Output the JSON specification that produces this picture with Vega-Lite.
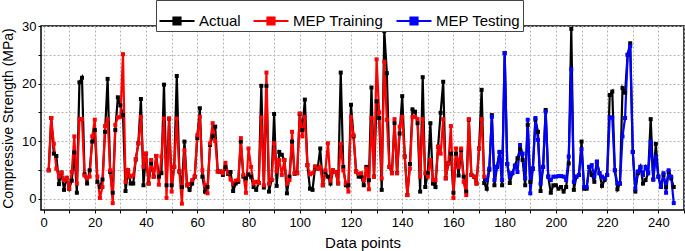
{
  "$schema": "https://vega.github.io/schema/vega-lite/v6.json",
  "width": 643,
  "height": 184,
  "autosize": {"type": "none"},
  "padding": {"left": 41, "top": 26, "right": 1, "bottom": 41},
  "background": "white",
  "config": {
    "font": "Liberation Sans",
    "view": {"stroke": "black", "strokeWidth": 1.5},
    "axis": {"labelFont": "Liberation Sans", "titleFont": "Liberation Sans", "labelColor": "black", "titleColor": "black", "titleFontWeight": "normal", "domain": false, "tickColor": "black", "tickSize": 3, "grid": true, "gridColor": "#b4b4b4", "gridDash": [2, 2], "gridWidth": 1}
  },
  "data": {"values": [
    {"i":2,"Actual":4.9,"MEP Training":4.9},
    {"i":3,"Actual":14,"MEP Training":14},
    {"i":4,"Actual":7.8,"MEP Training":9.5},
    {"i":5,"Actual":7.4,"MEP Training":5.2},
    {"i":6,"Actual":2.5,"MEP Training":3.8},
    {"i":7,"Actual":4.5,"MEP Training":4.5},
    {"i":8,"Actual":1.5,"MEP Training":3.2},
    {"i":9,"Actual":3.6,"MEP Training":3.6},
    {"i":10,"Actual":1.7,"MEP Training":1.7},
    {"i":11,"Actual":3.1,"MEP Training":4.6},
    {"i":12,"Actual":8,"MEP Training":10.8},
    {"i":13,"Actual":1,"MEP Training":2.6},
    {"i":14,"Actual":20.2,"MEP Training":13.8},
    {"i":15,"Actual":21,"MEP Training":13.8},
    {"i":16,"Actual":4.2,"MEP Training":4},
    {"i":17,"Actual":2.6,"MEP Training":3.5},
    {"i":18,"Actual":4.9,"MEP Training":3.8},
    {"i":19,"Actual":9.9,"MEP Training":10.8},
    {"i":20,"Actual":11.9,"MEP Training":13.7},
    {"i":21,"Actual":2.9,"MEP Training":3.8},
    {"i":22,"Actual":2,"MEP Training":0.1},
    {"i":23,"Actual":3.3,"MEP Training":2},
    {"i":24,"Actual":11.6,"MEP Training":12.6},
    {"i":25,"Actual":20.8,"MEP Training":13.8},
    {"i":26,"Actual":4.6,"MEP Training":4.9},
    {"i":27,"Actual":1,"MEP Training":-0.8},
    {"i":28,"Actual":11.9,"MEP Training":12.8},
    {"i":29,"Actual":17.6,"MEP Training":14.1},
    {"i":30,"Actual":16.2,"MEP Training":14.2},
    {"i":31,"Actual":14.5,"MEP Training":25.1},
    {"i":32,"Actual":1.3,"MEP Training":2.9},
    {"i":33,"Actual":4.9,"MEP Training":4.9},
    {"i":34,"Actual":2.6,"MEP Training":3.8},
    {"i":35,"Actual":2.6,"MEP Training":4},
    {"i":36,"Actual":6.8,"MEP Training":6.8},
    {"i":37,"Actual":9.6,"MEP Training":9.6},
    {"i":38,"Actual":17.3,"MEP Training":14.2},
    {"i":39,"Actual":2.3,"MEP Training":5.5},
    {"i":40,"Actual":7.8,"MEP Training":7.8},
    {"i":41,"Actual":2.6,"MEP Training":2.6},
    {"i":42,"Actual":6.1,"MEP Training":6.7},
    {"i":43,"Actual":3.8,"MEP Training":3.8},
    {"i":44,"Actual":7.4,"MEP Training":7.4},
    {"i":45,"Actual":3.8,"MEP Training":2.4},
    {"i":46,"Actual":4.4,"MEP Training":7.3},
    {"i":47,"Actual":19.8,"MEP Training":13.9},
    {"i":48,"Actual":2.3,"MEP Training":0.1},
    {"i":49,"Actual":13.9,"MEP Training":13.9},
    {"i":50,"Actual":2.3,"MEP Training":1.2},
    {"i":51,"Actual":5.5,"MEP Training":5.5},
    {"i":52,"Actual":21.3,"MEP Training":13.9},
    {"i":53,"Actual":4.7,"MEP Training":4.7},
    {"i":54,"Actual":2,"MEP Training":-0.9},
    {"i":55,"Actual":9.9,"MEP Training":8.4},
    {"i":56,"Actual":2.3,"MEP Training":2.3},
    {"i":57,"Actual":1.5,"MEP Training":2.5},
    {"i":58,"Actual":2.6,"MEP Training":3.2},
    {"i":59,"Actual":3.8,"MEP Training":3.8},
    {"i":60,"Actual":10.5,"MEP Training":11},
    {"i":61,"Actual":15.7,"MEP Training":14.2},
    {"i":62,"Actual":3.8,"MEP Training":4.9},
    {"i":63,"Actual":1.2,"MEP Training":2.3},
    {"i":64,"Actual":2,"MEP Training":0.9},
    {"i":65,"Actual":9.3,"MEP Training":9.6},
    {"i":66,"Actual":10.8,"MEP Training":13.1},
    {"i":67,"Actual":12.5,"MEP Training":10},
    {"i":68,"Actual":4.7,"MEP Training":4.7},
    {"i":69,"Actual":4.7,"MEP Training":4.7},
    {"i":70,"Actual":4.1,"MEP Training":4.4},
    {"i":71,"Actual":5.5,"MEP Training":6.2},
    {"i":72,"Actual":4.3,"MEP Training":4.5},
    {"i":73,"Actual":4.6,"MEP Training":3.3},
    {"i":74,"Actual":1.3,"MEP Training":2.6},
    {"i":75,"Actual":2.6,"MEP Training":3.1},
    {"i":76,"Actual":2.9,"MEP Training":3.2},
    {"i":77,"Actual":9.9,"MEP Training":10.5},
    {"i":78,"Actual":3.8,"MEP Training":4.1},
    {"i":79,"Actual":3.5,"MEP Training":1},
    {"i":80,"Actual":4.2,"MEP Training":8.7},
    {"i":81,"Actual":3.8,"MEP Training":5.5},
    {"i":82,"Actual":2,"MEP Training":2.6},
    {"i":83,"Actual":1.5,"MEP Training":2.9},
    {"i":84,"Actual":2.7,"MEP Training":2.7},
    {"i":85,"Actual":19.6,"MEP Training":14.1},
    {"i":86,"Actual":1.9,"MEP Training":2.3},
    {"i":87,"Actual":19.6,"MEP Training":21.9},
    {"i":88,"Actual":1.2,"MEP Training":2.6},
    {"i":89,"Actual":3.2,"MEP Training":3.3},
    {"i":90,"Actual":14.7,"MEP Training":9.6},
    {"i":91,"Actual":2.2,"MEP Training":4.7},
    {"i":92,"Actual":8.1,"MEP Training":6.7},
    {"i":93,"Actual":7.6,"MEP Training":4.1},
    {"i":94,"Actual":6.7,"MEP Training":6.7},
    {"i":95,"Actual":0.9,"MEP Training":2.6},
    {"i":96,"Actual":3.8,"MEP Training":3.2},
    {"i":97,"Actual":9.9,"MEP Training":11.6},
    {"i":98,"Actual":4.3,"MEP Training":4.4},
    {"i":99,"Actual":4.4,"MEP Training":4.4},
    {"i":100,"Actual":14.7,"MEP Training":14.8},
    {"i":101,"Actual":11.9,"MEP Training":10.8},
    {"i":102,"Actual":17.2,"MEP Training":14.2},
    {"i":103,"Actual":5.8,"MEP Training":5.8},
    {"i":104,"Actual":1.7,"MEP Training":4.2},
    {"i":105,"Actual":1.5,"MEP Training":4.4},
    {"i":106,"Actual":5.5,"MEP Training":5.6},
    {"i":107,"Actual":5.2,"MEP Training":5.2},
    {"i":108,"Actual":8.7,"MEP Training":5.5},
    {"i":109,"Actual":2.3,"MEP Training":2.3},
    {"i":110,"Actual":4.6,"MEP Training":4.9},
    {"i":111,"Actual":3.8,"MEP Training":9.6},
    {"i":112,"Actual":2.6,"MEP Training":3.1},
    {"i":113,"Actual":4.9,"MEP Training":4.9},
    {"i":114,"Actual":4.6,"MEP Training":4.6},
    {"i":115,"Actual":2.6,"MEP Training":2.7},
    {"i":116,"Actual":21.9,"MEP Training":9.5},
    {"i":117,"Actual":5.5,"MEP Training":4.9},
    {"i":118,"Actual":2.3,"MEP Training":2.6},
    {"i":119,"Actual":2.3,"MEP Training":1.2},
    {"i":120,"Actual":16.3,"MEP Training":14.2},
    {"i":121,"Actual":10.8,"MEP Training":11},
    {"i":122,"Actual":4.7,"MEP Training":4.7},
    {"i":123,"Actual":3.8,"MEP Training":4.3},
    {"i":124,"Actual":3.8,"MEP Training":4.4},
    {"i":125,"Actual":2.3,"MEP Training":3.2},
    {"i":126,"Actual":5.5,"MEP Training":5.2},
    {"i":127,"Actual":3.2,"MEP Training":1.6},
    {"i":128,"Actual":19.3,"MEP Training":14},
    {"i":129,"Actual":3.8,"MEP Training":3.8},
    {"i":130,"Actual":16.9,"MEP Training":24.2},
    {"i":131,"Actual":14,"MEP Training":15},
    {"i":132,"Actual":1.5,"MEP Training":3.5},
    {"i":133,"Actual":29.1,"MEP Training":23.8},
    {"i":134,"Actual":21.8,"MEP Training":13.7},
    {"i":135,"Actual":5.5,"MEP Training":5.5},
    {"i":136,"Actual":4.4,"MEP Training":4.4},
    {"i":137,"Actual":13.1,"MEP Training":13.8},
    {"i":138,"Actual":4.4,"MEP Training":4.4},
    {"i":139,"Actual":11.3,"MEP Training":12.5},
    {"i":140,"Actual":17.8,"MEP Training":14.2},
    {"i":141,"Actual":7.3,"MEP Training":7.3},
    {"i":142,"Actual":0.6,"MEP Training":0.6},
    {"i":143,"Actual":6,"MEP Training":5.2},
    {"i":144,"Actual":15.5,"MEP Training":14.2},
    {"i":145,"Actual":15.1,"MEP Training":14.2},
    {"i":146,"Actual":13.1,"MEP Training":13.8},
    {"i":147,"Actual":1.2,"MEP Training":3.8},
    {"i":148,"Actual":21.1,"MEP Training":13.8},
    {"i":149,"Actual":2,"MEP Training":4.4},
    {"i":150,"Actual":4.4,"MEP Training":3.8},
    {"i":151,"Actual":13.1,"MEP Training":6.7},
    {"i":152,"Actual":2.6,"MEP Training":3.2},
    {"i":153,"Actual":2,"MEP Training":3.2},
    {"i":154,"Actual":9,"MEP Training":9},
    {"i":155,"Actual":14.9,"MEP Training":7.8},
    {"i":156,"Actual":20.3,"MEP Training":13.8},
    {"i":157,"Actual":3.5,"MEP Training":3.5},
    {"i":158,"Actual":6.1,"MEP Training":6.1},
    {"i":159,"Actual":7.8,"MEP Training":12.6},
    {"i":160,"Actual":1,"MEP Training":0.1},
    {"i":161,"Actual":7.8,"MEP Training":8.7},
    {"i":162,"Actual":4,"MEP Training":5.5},
    {"i":163,"Actual":8.4,"MEP Training":8.7},
    {"i":164,"Actual":3.8,"MEP Training":2.9},
    {"i":165,"Actual":1.2,"MEP Training":0.6},
    {"i":166,"Actual":13.7,"MEP Training":13.8},
    {"i":167,"Actual":4.1,"MEP Training":4.1},
    {"i":168,"Actual":3.8,"MEP Training":3.8},
    {"i":169,"Actual":2.6,"MEP Training":2.6},
    {"i":170,"Actual":8.7,"MEP Training":8.7},
    {"i":171,"Actual":18.9,"MEP Training":13.8},
    {"i":172,"Actual":2.7,"MEP Training":3.8},
    {"i":173,"Actual":1.7,"MEP Testing":3.2},
    {"i":174,"Actual":5,"MEP Testing":5.2},
    {"i":175,"Actual":14.5,"MEP Testing":14.2},
    {"i":176,"Actual":2.3,"MEP Testing":3.2},
    {"i":177,"Actual":5.5,"MEP Testing":5.5},
    {"i":178,"Actual":8.1,"MEP Testing":8.1},
    {"i":179,"Actual":2.3,"MEP Testing":3.2},
    {"i":180,"Actual":25.3,"MEP Testing":25.3},
    {"i":181,"Actual":6,"MEP Testing":6},
    {"i":182,"Actual":2.7,"MEP Testing":3.8},
    {"i":183,"Actual":4.4,"MEP Testing":4.4},
    {"i":184,"Actual":5.7,"MEP Testing":5.7},
    {"i":185,"Actual":7,"MEP Testing":4.6},
    {"i":186,"Actual":8.6,"MEP Testing":9.3},
    {"i":187,"Actual":6.7,"MEP Testing":7.8},
    {"i":188,"Actual":2.3,"MEP Testing":3.5},
    {"i":189,"Actual":12.8,"MEP Testing":13.7},
    {"i":190,"Actual":2.9,"MEP Testing":0.9},
    {"i":191,"Actual":5.2,"MEP Testing":5.2},
    {"i":192,"Actual":13.7,"MEP Testing":14},
    {"i":193,"Actual":11.6,"MEP Testing":10.2},
    {"i":194,"Actual":1.3,"MEP Testing":2.6},
    {"i":195,"Actual":5.5,"MEP Testing":5.5},
    {"i":196,"Actual":15.4,"MEP Testing":15.1},
    {"i":197,"Actual":3.8,"MEP Testing":3.8},
    {"i":198,"Actual":1,"MEP Testing":3.2},
    {"i":199,"Actual":2.3,"MEP Testing":3.8},
    {"i":200,"Actual":2.3,"MEP Testing":3.8},
    {"i":201,"Actual":1.7,"MEP Testing":3.9},
    {"i":202,"Actual":2,"MEP Testing":3.9},
    {"i":203,"Actual":1.2,"MEP Testing":3.8},
    {"i":204,"Actual":2,"MEP Testing":3.2},
    {"i":205,"Actual":6.1,"MEP Testing":7.3},
    {"i":206,"Actual":29.5,"MEP Testing":22.5},
    {"i":207,"Actual":1.5,"MEP Testing":2.9},
    {"i":208,"Actual":3.8,"MEP Testing":3.8},
    {"i":209,"Actual":4.1,"MEP Testing":4.1},
    {"i":210,"Actual":9.9,"MEP Testing":8.6},
    {"i":211,"Actual":1.7,"MEP Testing":2},
    {"i":212,"Actual":1.7,"MEP Testing":2},
    {"i":213,"Actual":5.5,"MEP Testing":5.5},
    {"i":214,"Actual":4.1,"MEP Testing":5.8},
    {"i":215,"Actual":2.9,"MEP Testing":3.8},
    {"i":216,"Actual":6.4,"MEP Testing":6.4},
    {"i":217,"Actual":4.4,"MEP Testing":4.4},
    {"i":218,"Actual":2.2,"MEP Testing":3.8},
    {"i":219,"Actual":3.2,"MEP Testing":3.5},
    {"i":220,"Actual":4.1,"MEP Testing":4.1},
    {"i":221,"Actual":18,"MEP Testing":14.1},
    {"i":222,"Actual":18.6,"MEP Testing":14.1},
    {"i":223,"Actual":4.9,"MEP Testing":4.9},
    {"i":224,"Actual":1.6,"MEP Testing":2.6},
    {"i":225,"Actual":2.6,"MEP Testing":2.6},
    {"i":226,"Actual":19.2,"MEP Testing":10.8},
    {"i":227,"Actual":18.4,"MEP Testing":14},
    {"i":228,"Actual":25,"MEP Testing":25},
    {"i":229,"Actual":27,"MEP Testing":26.5},
    {"i":230,"Actual":8.1,"MEP Testing":8.1},
    {"i":231,"Actual":1.2,"MEP Testing":1.7},
    {"i":232,"Actual":4.4,"MEP Testing":4.7},
    {"i":233,"Actual":5.5,"MEP Testing":5.5},
    {"i":234,"Actual":2.6,"MEP Testing":4.1},
    {"i":235,"Actual":3.2,"MEP Testing":5.5},
    {"i":236,"Actual":4.4,"MEP Testing":4.4},
    {"i":237,"Actual":13.8,"MEP Testing":9.9},
    {"i":238,"Actual":3.3,"MEP Testing":3.3},
    {"i":239,"Actual":9.5,"MEP Testing":7.3},
    {"i":240,"Actual":3.8,"MEP Testing":3.8},
    {"i":241,"Actual":2,"MEP Testing":2},
    {"i":242,"Actual":4.1,"MEP Testing":4.4},
    {"i":243,"Actual":2,"MEP Testing":1},
    {"i":244,"Actual":4.6,"MEP Testing":4.9},
    {"i":245,"Actual":3.5,"MEP Testing":3.8},
    {"i":246,"Actual":2,"MEP Testing":-0.8}
  ]},
  "transform": [
    {"fold": ["Actual", "MEP Training", "MEP Testing"], "as": ["series", "v"]},
    {"filter": "datum.v != null"}
  ],
  "mark": {"type": "line", "strokeWidth": 2.2, "point": {"shape": "square", "filled": true, "size": 16}},
  "encoding": {
    "x": {"field": "i", "type": "quantitative", "scale": {"domain": [-1, 250], "nice": false, "zero": false},
      "axis": {"values": [0,10,20,30,40,50,60,70,80,90,100,110,120,130,140,150,160,170,180,190,200,210,220,230,240,250], "labelExpr": "datum.value % 20 == 0 && datum.value <= 240 ? datum.label : ''", "labelFontSize": 13, "labelPadding": 3, "labelFlush": false, "title": "Data points", "titleFontSize": 15, "titlePadding": 6}},
    "y": {"field": "v", "type": "quantitative", "scale": {"domain": [-2, 30], "nice": false, "zero": false},
      "axis": {"values": [0,5,10,15,20,25,30], "labelExpr": "datum.value % 10 == 0 ? datum.label : ''", "labelFontSize": 13, "labelPadding": 2, "title": "Compressive Strength (MPa)", "titleFontSize": 14, "titlePadding": 6}},
    "color": {"field": "series", "type": "nominal",
      "scale": {"domain": ["Actual", "MEP Training", "MEP Testing"], "range": ["#000000", "#ff0000", "#0000ff"]},
      "legend": {"title": null, "orient": "none", "legendX": 115, "legendY": -26, "direction": "horizontal", "strokeColor": "#444444", "padding": 2, "fillColor": "white",
        "symbolType": "M-1,0H1M-0.2,-0.2H0.2V0.2H-0.2Z", "symbolSize": 1225, "symbolStrokeWidth": 2.2, "labelFontSize": 15, "labelFont": "Liberation Sans", "labelColor": "black", "labelOffset": 3, "columnPadding": 8, "symbolOffset": 0}}
  }
}
